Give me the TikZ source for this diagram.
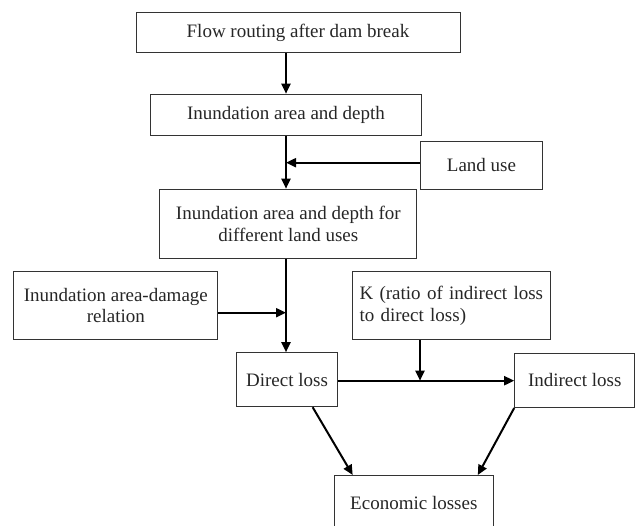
\documentclass[tikz,border=0pt]{standalone}
\usepackage{fontspec}
\setmainfont{Liberation Serif}
\usetikzlibrary{arrows.meta}

\begin{document}
\begin{tikzpicture}[x=1pt,y=-1pt,
  box/.style={draw=black!80,line width=1pt,inner sep=0pt,align=center,
    text=black!85,font=\fontsize{19}{21.7}\selectfont},
  arr/.style={draw=black,line width=2pt,-{Triangle[length=10pt,width=9pt]}}]

\useasboundingbox (0,0) rectangle (635,526);

%top chain
\node[box,minimum width=324pt,minimum height=40pt] (flow) at (298,33) {Flow routing after dam break};
\node[box,minimum width=271pt,minimum height=41pt] (area) at (286,114.7) {Inundation area and depth};
\node[box,minimum width=122pt,minimum height=48pt] (land) at (481.5,165.5) {Land use};
\node[box,minimum width=257pt,minimum height=69pt] (uses) at (288.3,223.7) {Inundation area and depth for\\different land uses};

%inputs
\node[box,minimum width=204pt,minimum height=68pt] (dmg) at (115.8,305.5) {Inundation area-damage\\relation};
\node[box,minimum height=68pt,text width=184pt,inner xsep=7pt,align=left] (ratio) at (451.5,305.5) {K (ratio of indirect loss\\to direct loss)};

%losses
\node[box,minimum width=101pt,minimum height=54pt] (dir) at (287,379.7) {Direct loss};
\node[box,minimum width=120pt,minimum height=54pt] (ind) at (574.7,380.5) {Indirect loss};
\node[box,minimum width=159pt,minimum height=56pt] (econ) at (413.8,503.5) {Economic losses};

\coordinate (jl) at (286,162.7);
\coordinate (jd) at (286,312.7);
\coordinate (jk) at (420,380.7);

\path[arr] (flow.south -| area.north) -- (area.north);
\path[draw=black,line width=2pt] (area.south) -- (jl);
\path[arr] (jl) -- (jl |- uses.north);
\path[arr] (land.west |- jl) -- (jl);
\path[draw=black,line width=2pt] (jl |- uses.south) -- (jd);
\path[arr] (jd) -- (jd |- dir.north);
\path[arr] (dmg.east |- jd) -- (jd);
\path[arr] (jk |- ratio.south) -- (jk);
\path[arr] (dir.east |- jk) -- (ind.west |- jk);
\path[arr] (dir.-47.5) -- (econ.155.4);
\path[arr] (ind.south west) -- (econ.24.6);

\end{tikzpicture}
\end{document}
